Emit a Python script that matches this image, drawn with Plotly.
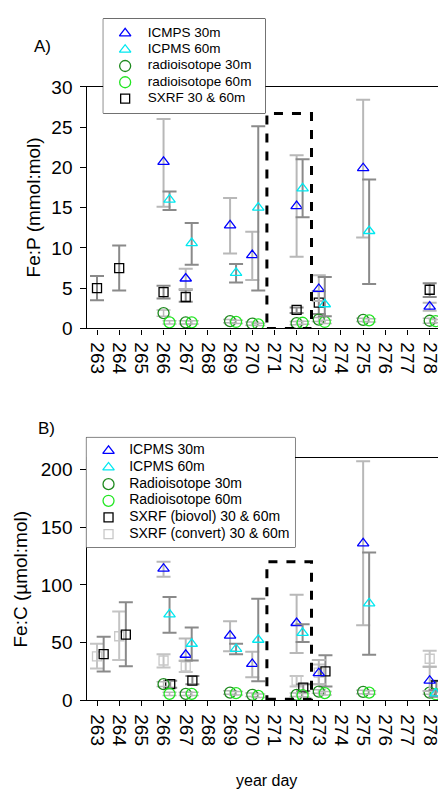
import plotly.graph_objects as go

# ---------------- Panel A: Fe:P (mmol:mol) ----------------
a_icp30_day = [266, 267, 269, 270, 272, 273, 275, 278]
a_icp30_val = [20.7, 6.2, 12.8, 9.1, 15.2, 4.9, 19.9, 2.7]
a_icp30_lo = [15.1, 4.9, 9.3, 6.0, 8.9, 3.4, 11.3, 2.2]
a_icp30_hi = [26.0, 7.4, 16.2, 12.0, 21.5, 6.6, 28.4, 3.2]

a_icp60_day = [266, 267, 269, 270, 272, 273, 275]
a_icp60_val = [16.0, 10.6, 6.9, 15.0, 17.4, 3.0, 12.1]
a_icp60_lo = [14.7, 7.9, 5.7, 4.7, 13.8, 1.5, 5.5]
a_icp60_hi = [17.0, 13.1, 8.0, 25.1, 21.0, 6.4, 18.5]

a_rad_day = [266, 267, 269, 270, 272, 273, 275, 278]
a_rad30_val = [1.9, 0.75, 0.9, 0.6, 0.65, 1.1, 1.05, 0.95]
a_rad30_err = [0.4, 0.2, 0.2, 0.2, 0.2, 0.25, 0.2, 0.3]
a_rad60_val = [0.75, 0.75, 0.8, 0.5, 0.7, 0.8, 1.0, 0.9]
a_rad60_err = [0.2, 0.2, 0.2, 0.15, 0.2, 0.2, 0.2, 0.2]

a_sxrf_day = [263, 264, 266, 267, 272, 273, 278]
a_sxrf_val = [5.0, 7.5, 4.5, 3.9, 2.3, 3.2, 4.8]
a_sxrf_lo = [3.5, 4.7, 3.7, 3.3, 1.9, 1.8, 3.9]
a_sxrf_hi = [6.5, 10.3, 5.3, 4.8, 2.6, 4.6, 5.6]

# ---------------- Panel B: Fe:C (umol:mol) ----------------
b_icp30_day = [266, 267, 269, 270, 272, 273, 275, 278]
b_icp30_val = [114, 39.5, 56, 31.5, 67, 23.5, 136, 17]
b_icp30_lo = [107, 34, 42.5, 20, 41, 14, 65, 8]
b_icp30_hi = [120, 53.5, 68.5, 42, 91.5, 35, 207, 29]

b_icp60_day = [266, 267, 269, 270, 272, 275, 278]
b_icp60_val = [74.5, 49, 44.5, 52.5, 58.5, 84, 6]
b_icp60_lo = [58.5, 34.5, 40, 16.5, 50.5, 39.5, 3]
b_icp60_hi = [89.5, 63, 49, 88, 66, 128, 9]

b_rad_day = [266, 267, 269, 270, 272, 273, 275, 278]
b_rad30_val = [14, 5.6, 6.7, 4.8, 4.8, 7.6, 7.3, 6.7]
b_rad30_err = [2, 1.5, 1.5, 1.5, 1.5, 1.5, 1.5, 1.5]
b_rad60_val = [5.6, 5.6, 6.2, 3.9, 4.5, 6.2, 6.7, 5.3]
b_rad60_err = [1.5, 1.5, 1.5, 1.5, 1.5, 1.5, 1.5, 1.5]

b_sxrf_day = [263, 264, 266, 267, 272, 273, 278]
b_bio_val = [40, 57, 14, 17, 11, 25, 13]
b_bio_lo = [25, 29.5, 11, 14, 8, 12, 8]
b_bio_hi = [55, 85, 17, 21, 14, 39, 17]
b_cv_val = [38, 55.5, 34.5, 29.5, 17, 24, 36]
b_cv_lo = [27.5, 35, 28.5, 24.5, 12, 14, 29]
b_cv_hi = [49, 77, 40, 34.5, 21, 31, 43]

day_ticks = list(range(263, 279))

legend_a_labels = ["ICMPS 30m", "ICPMS 60m", "radioisotope 30m",
                   "radioisotope 60m", "SXRF 30 & 60m"]
legend_b_labels = ["ICPMS 30m", "ICPMS 60m", "Radioisotope 30m", "Radioisotope 60m",
                   "SXRF (biovol) 30 & 60m", "SXRF (convert) 30 & 60m"]

# styling
FONT = "Liberation Sans, Arial, sans-serif"
BLUE, CYAN = "#0000ff", "#00e8f0"
DKGREEN, LTGREEN = "#1f8a1f", "#22e622"
GRAY_LIGHT, GRAY_DARK = "#b8b8b8", "#8a8a8a"
SXRF_LIGHT = "#c8c8c8"
SHIFT = 0.27  # horizontal shift of the 60 m / second series

STY_ICP30 = ("triangle-up-open", BLUE, 10)
STY_ICP60 = ("triangle-up-open", CYAN, 10)
STY_RAD30 = ("circle-open", DKGREEN, 11)
STY_RAD60 = ("circle-open", LTGREEN, 11)
STY_SXRF = ("square-open", "black", 9)
STY_SXRF_CV = ("square-open", SXRF_LIGHT, 9)


def shifted(days, d):
    return [v + d for v in days]


def err(val, lo, hi, color, thick=2):
    return dict(type="data", symmetric=False,
                array=[h - v for v, h in zip(val, hi)],
                arrayminus=[v - l for v, l in zip(val, lo)],
                color=color, thickness=thick, width=7)


def err_sym(e, color):
    return dict(type="data", array=e, color=color, thickness=1.5, width=7)


fig = go.Figure()


def add(x, y, e, sty, xa, ya):
    sym, color, size = sty
    fig.add_trace(go.Scatter(
        x=x, y=y, mode="markers", error_y=e, showlegend=False,
        marker=dict(symbol=sym, size=size, color=color,
                    line=dict(color=color, width=1.3)),
        xaxis=xa, yaxis=ya, cliponaxis=True, hoverinfo="skip"))


# Panel A traces
add(a_sxrf_day, a_sxrf_val, err(a_sxrf_val, a_sxrf_lo, a_sxrf_hi, GRAY_DARK), STY_SXRF, "x", "y")
add(a_rad_day, a_rad30_val, err_sym(a_rad30_err, GRAY_LIGHT), STY_RAD30, "x", "y")
add(shifted(a_rad_day, SHIFT), a_rad60_val, err_sym(a_rad60_err, GRAY_LIGHT), STY_RAD60, "x", "y")
add(a_icp30_day, a_icp30_val, err(a_icp30_val, a_icp30_lo, a_icp30_hi, GRAY_LIGHT), STY_ICP30, "x", "y")
add(shifted(a_icp60_day, SHIFT), a_icp60_val,
    err(a_icp60_val, a_icp60_lo, a_icp60_hi, GRAY_DARK), STY_ICP60, "x", "y")

# Panel B traces
add(b_sxrf_day, b_cv_val, err(b_cv_val, b_cv_lo, b_cv_hi, "#c4c4c4"), STY_SXRF_CV, "x2", "y2")
add(shifted(b_sxrf_day, 0.3), b_bio_val, err(b_bio_val, b_bio_lo, b_bio_hi, GRAY_DARK), STY_SXRF, "x2", "y2")
add(b_rad_day, b_rad30_val, err_sym(b_rad30_err, GRAY_LIGHT), STY_RAD30, "x2", "y2")
add(shifted(b_rad_day, SHIFT), b_rad60_val, err_sym(b_rad60_err, GRAY_LIGHT), STY_RAD60, "x2", "y2")
add(b_icp30_day, b_icp30_val, err(b_icp30_val, b_icp30_lo, b_icp30_hi, GRAY_LIGHT), STY_ICP30, "x2", "y2")
add(shifted(b_icp60_day, SHIFT), b_icp60_val,
    err(b_icp60_val, b_icp60_lo, b_icp60_hi, GRAY_DARK), STY_ICP60, "x2", "y2")


# Compact boxed legends drawn on their own small axes (row index = y)
def legend_box(labels, styles, xa, ya, key_x, text_x, fsize):
    for i, sty in enumerate(styles):
        sym, color, size = sty
        fig.add_trace(go.Scatter(
            x=[key_x], y=[i], mode="markers", showlegend=False, hoverinfo="skip",
            marker=dict(symbol=sym, size=size, color=color, line=dict(color=color, width=1.3)),
            xaxis=xa, yaxis=ya, cliponaxis=False))
    fig.add_trace(go.Scatter(
        x=[text_x] * len(labels), y=list(range(len(labels))), mode="text",
        text=labels, textposition="middle right", showlegend=False, hoverinfo="skip",
        textfont=dict(family=FONT, size=fsize, color="black"),
        xaxis=xa, yaxis=ya, cliponaxis=False))
    fig.add_shape(type="rect", xref=xa + " domain", yref=ya + " domain",
                  x0=0, x1=1, y0=0, y1=1, fillcolor="white",
                  line=dict(color="black", width=1), layer="below")


legend_box(legend_a_labels, [STY_ICP30, STY_ICP60, STY_RAD30, STY_RAD60, STY_SXRF],
           "x3", "y3", 0.135, 0.275, 13.5)
legend_box(legend_b_labels, [STY_ICP30, STY_ICP60, STY_RAD30, STY_RAD60, STY_SXRF, STY_SXRF_CV],
           "x4", "y4", 0.106, 0.205, 14)

W, H = 440, 798
XR = [262.567, 278.375]

xcommon = dict(range=XR, tickmode="array", tickvals=day_ticks,
               ticktext=[str(d) for d in day_ticks], tickangle=90,
               ticks="outside", ticklen=5, tickcolor="black",
               showline=True, linecolor="black", linewidth=1.3, mirror=True,
               showgrid=False, zeroline=False, ticklabeloverflow="allow",
               tickfont=dict(family=FONT, size=19, color="black"),
               ticklabelstandoff=4)
ycommon = dict(ticks="outside", ticklen=6, tickcolor="black",
               showline=True, linecolor="black", linewidth=1.3,
               showgrid=False, zeroline=False,
               tickfont=dict(family=FONT, size=19, color="black"),
               ticklabelstandoff=4)
hidden = dict(visible=False, showgrid=False, zeroline=False, fixedrange=True)

fig.update_layout(
    width=W, height=H, margin=dict(l=0, r=0, t=0, b=0),
    paper_bgcolor="white", plot_bgcolor="white",
    font=dict(family=FONT, color="black"),
    showlegend=False,
    xaxis=dict(domain=[87 / W, 1], anchor="y", **xcommon),
    yaxis=dict(domain=[1 - 327 / H, 1 - 79 / H], anchor="x",
               range=[0, 30], tickvals=[0, 5, 10, 15, 20, 25, 30], **ycommon),
    xaxis2=dict(domain=[87 / W, 1], anchor="y2", **xcommon),
    yaxis2=dict(domain=[1 - 709 / H, 1 - 460 / H], anchor="x2",
                range=[0, 210], tickvals=[0, 50, 100, 150, 200], **ycommon),
    xaxis3=dict(domain=[103 / W, 266 / W], anchor="y3", range=[0, 1], **hidden),
    yaxis3=dict(domain=[1 - 106 / H, 1 - 9 / H], anchor="x3", range=[4.9, -0.9], **hidden),
    xaxis4=dict(domain=[86 / W, 296 / W], anchor="y4", range=[0, 1], **hidden),
    yaxis4=dict(domain=[1 - 552 / H, 1 - 439 / H], anchor="x4", range=[5.8, -0.8], **hidden),
)

# dashed boxes around days 271-272
fig.add_shape(type="rect", xref="x", yref="y", x0=270.66, x1=272.67, y0=0, y1=26.7,
              line=dict(color="black", width=3, dash="dash"), layer="above")
fig.add_shape(type="rect", xref="x2", yref="y2", x0=270.66, x1=272.67, y0=1, y1=120,
              line=dict(color="black", width=3, dash="dash"), layer="above")

ann = [
    dict(text="A)", x=42 / W, y=1 - 37 / H, size=17, angle=0),
    dict(text="B)", x=46 / W, y=1 - 430 / H, size=17, angle=0),
    dict(text="Fe:P (mmol:mol)", x=33 / W, y=1 - 203 / H, size=19, angle=-90),
    dict(text="Fe:C (µmol:mol)", x=20 / W, y=1 - 584 / H, size=19, angle=-90),
    dict(text="year day", x=267 / W, y=1 - 791 / H, size=16, angle=0),
]
for a in ann:
    fig.add_annotation(text=a["text"], x=a["x"], y=a["y"], xref="paper", yref="paper",
                       xanchor="center", yanchor="middle", showarrow=False,
                       textangle=a["angle"],
                       font=dict(family=FONT, size=a["size"], color="black"))

fig.write_html("out.html")
